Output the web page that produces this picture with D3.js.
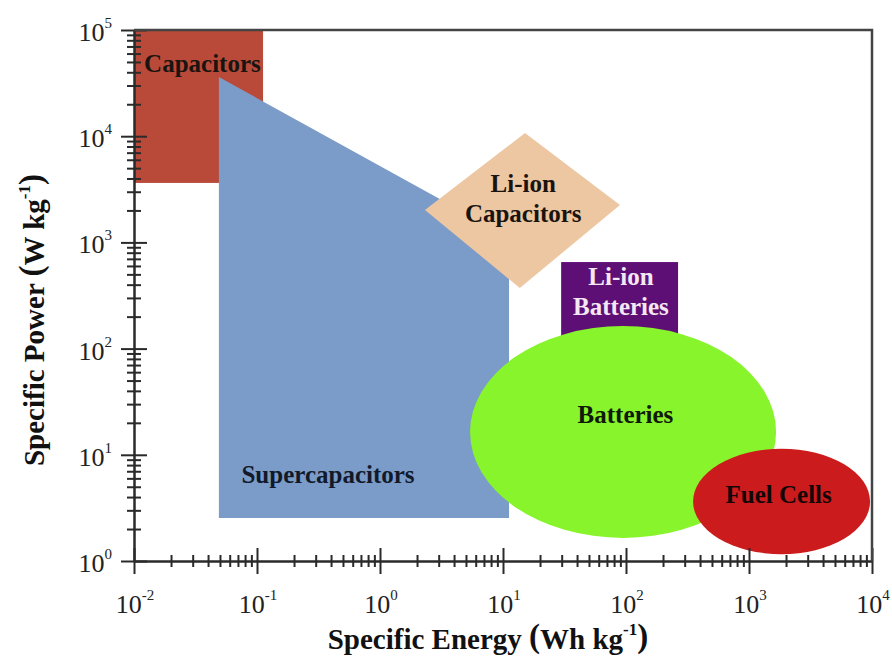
<!DOCTYPE html>
<html>
<head>
<meta charset="utf-8">
<script src="https://cdn.jsdelivr.net/npm/d3@7/dist/d3.min.js"></script>
<style>
html,body{margin:0;padding:0;background:#fff;}
svg{display:block;}
text{font-family:"Liberation Serif","Times New Roman",serif;}
</style>
</head>
<body>
<svg id="chart" width="892" height="657"></svg>
<script>
// ---- data (Specific Energy in Wh/kg, Specific Power in W/kg) ----
const xTickExponents = [-2, -1, 0, 1, 2, 3, 4];
const yTickExponents = [0, 1, 2, 3, 4, 5];

const capacitorsRect = {energy: [0.01, 0.112], power: [3630, 100000]};
const supercapPolygon = [[0.049, 36000], [11.2, 1120], [11.2, 2.54], [0.049, 2.54]];
const liIonCapDiamond = [[15.1, 10700], [89.3, 2250], [13.7, 372], [2.32, 2020]];
const liIonBattRect = {energy: [29.7, 265], power: [120, 653]};
const batteriesEllipse = {energy: [5.4, 1660], power: [1.65, 163]};
const fuelCellsEllipse = {energy: [351, 9640], power: [1.16, 11.4]};

const labels = [
  {lines: ["Capacitors"], energy: 0.036, power: 40300, color: "#1a1410"},
  {lines: ["Supercapacitors"], energy: 0.378, power: 5.42, color: "#121a2a"},
  {lines: ["Li-ion", "Capacitors"], energy: 14.6, power: 2150, color: "#1a1410"},
  {lines: ["Li-ion", "Batteries"], energy: 91, power: 287, color: "#f4e8f4"},
  {lines: ["Batteries"], energy: 99, power: 20, color: "#101a08"},
  {lines: ["Fuel Cells"], energy: 1742, power: 3.52, color: "#140606"}
];

// ---- layout ----
const svg = d3.select("#chart");
const x = d3.scaleLog().domain([1e-2, 1e4]).range([134, 872]);
const y = d3.scaleLog().domain([1, 1e5]).range([561, 30]);

// Capacitors
svg.append("rect")
  .attr("x", x(capacitorsRect.energy[0]))
  .attr("y", y(capacitorsRect.power[1]))
  .attr("width", x(capacitorsRect.energy[1]) - x(capacitorsRect.energy[0]))
  .attr("height", y(capacitorsRect.power[0]) - y(capacitorsRect.power[1]))
  .attr("fill", "#b94a39");

const line = d3.line().x(d => x(d[0])).y(d => y(d[1]));
// Supercapacitors
svg.append("path").attr("d", line(supercapPolygon) + "Z").attr("fill", "#7b9cc8");
// Li-ion capacitors
svg.append("path").attr("d", line(liIonCapDiamond) + "Z").attr("fill", "#edc6a2");
// Li-ion batteries
svg.append("rect")
  .attr("x", x(liIonBattRect.energy[0]))
  .attr("y", y(liIonBattRect.power[1]))
  .attr("width", x(liIonBattRect.energy[1]) - x(liIonBattRect.energy[0]))
  .attr("height", y(liIonBattRect.power[0]) - y(liIonBattRect.power[1]))
  .attr("fill", "#5e0f75");

function ellipse(e, fill) {
  const x0 = x(e.energy[0]), x1 = x(e.energy[1]);
  const y0 = y(e.power[1]), y1 = y(e.power[0]);
  svg.append("ellipse")
    .attr("cx", (x0 + x1) / 2).attr("cy", (y0 + y1) / 2)
    .attr("rx", (x1 - x0) / 2).attr("ry", (y1 - y0) / 2)
    .attr("fill", fill);
}
ellipse(batteriesEllipse, "#88f42b");
ellipse(fuelCellsEllipse, "#cc1b1c");

// region labels
labels.forEach(l => {
  const t = svg.append("text")
    .attr("x", x(l.energy)).attr("y", y(l.power))
    .attr("text-anchor", "middle")
    .attr("font-weight", "bold")
    .attr("font-size", 25)
    .attr("fill", l.color);
  const n = l.lines.length;
  l.lines.forEach((s, i) => {
    t.append("tspan").attr("x", x(l.energy))
      .attr("dy", i === 0 ? -15 * (n - 1) : 30)
      .text(s);
  });
});

// ---- axes ----
const frameColor = "#2a2a2a";
function allTicks(exps) {
  const out = [];
  exps.forEach((e, i) => {
    out.push({v: Math.pow(10, e), major: true});
    if (i < exps.length - 1) for (let k = 2; k <= 9; k++) out.push({v: k * Math.pow(10, e), major: false});
  });
  return out;
}
const xt = allTicks(xTickExponents);
const yt = allTicks(yTickExponents);

const gx = svg.append("g").attr("transform", "translate(0,561)")
  .call(d3.axisBottom(x).tickValues(xt.map(d => d.v)).tickFormat("").tickSizeOuter(0));
gx.selectAll(".tick line").attr("y1", (d, i) => xt[i].major ? -13 : -6).attr("y2", (d, i) => xt[i].major ? 13 : 6)
  .attr("stroke", frameColor).attr("stroke-width", 2);
gx.select(".domain").attr("stroke", frameColor).attr("stroke-width", 2.5);

const gy = svg.append("g").attr("transform", "translate(134,0)")
  .call(d3.axisLeft(y).tickValues(yt.map(d => d.v)).tickFormat("").tickSizeOuter(0));
gy.selectAll(".tick line").attr("x1", (d, i) => yt[i].major ? -13 : -7).attr("x2", (d, i) => yt[i].major ? 13 : 7)
  .attr("stroke", frameColor).attr("stroke-width", 2);
gy.select(".domain").attr("stroke", frameColor).attr("stroke-width", 2.5);

// top and right frame
svg.append("path")
  .attr("d", `M${x(1e-2)},${y(1e5)}H${x(1e4)}V${y(1)}`)
  .attr("fill", "none").attr("stroke", "#444").attr("stroke-width", 2.5);

// tick labels
xTickExponents.forEach(e => {
  const t = svg.append("text").attr("x", x(Math.pow(10, e)) + 1).attr("y", 613)
    .attr("text-anchor", "middle").attr("font-size", 26).attr("fill", "#222");
  t.append("tspan").text("10");
  t.append("tspan").attr("font-size", 15).attr("dy", -13).text(e);
});
yTickExponents.forEach(e => {
  const t = svg.append("text").attr("x", 112).attr("y", y(Math.pow(10, e)) + 11)
    .attr("text-anchor", "end").attr("font-size", 26).attr("fill", "#222");
  t.append("tspan").text("10");
  t.append("tspan").attr("font-size", 15).attr("dy", -13).text(e);
});

// axis titles
function title(t) {
  t.attr("font-weight", "bold").attr("font-size", 29).attr("fill", "#111").attr("text-anchor", "middle");
  return t;
}
const xtitle = title(svg.append("text").attr("x", 488).attr("y", 649));
xtitle.append("tspan").text("Specific Energy ");
xtitle.append("tspan").attr("font-size", 33).attr("dy", -2).text("(");
xtitle.append("tspan").attr("dy", 2).text("Wh kg");
xtitle.append("tspan").attr("font-size", 17).attr("dy", -14).text("-1");
xtitle.append("tspan").attr("font-size", 33).attr("dy", 12).text(")");

const ytitle = title(svg.append("text").attr("transform", "translate(44,320) rotate(-90)"));
ytitle.append("tspan").text("Specific Power ");
ytitle.append("tspan").attr("font-size", 33).attr("dy", -2).text("(");
ytitle.append("tspan").attr("dy", 2).text("W kg");
ytitle.append("tspan").attr("font-size", 17).attr("dy", -14).text("-1");
ytitle.append("tspan").attr("font-size", 33).attr("dy", 12).text(")");
</script>
</body>
</html>
